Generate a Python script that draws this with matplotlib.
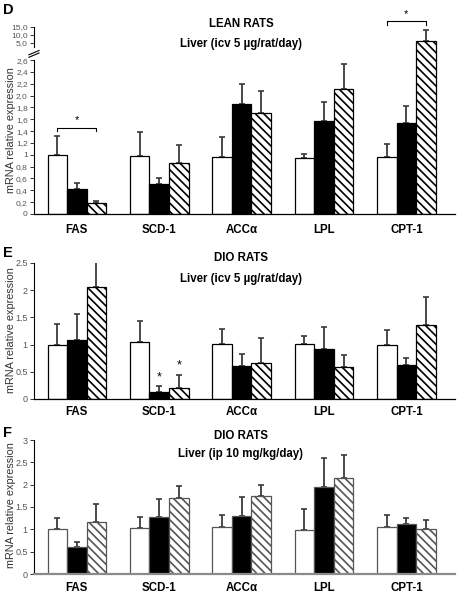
import numpy as np
import matplotlib
matplotlib.use("Agg")
import matplotlib.pyplot as plt

plt.rcParams['font.family'] = ['Liberation Sans', 'DejaVu Sans']
plt.rcParams['hatch.linewidth'] = 1.2

genes = ["FAS", "SCD-1", "ACCα", "LPL", "CPT-1"]

# Panel D: lean rats, icv
d_white = [1.00, 0.98, 0.97, 0.94, 0.97]
d_white_err = [0.32, 0.40, 0.33, 0.08, 0.21]
d_black = [0.43, 0.50, 1.86, 1.57, 1.53]
d_black_err = [0.10, 0.10, 0.33, 0.32, 0.29]
d_hatch = [0.19, 0.87, 1.71, 2.12, 6.0]
d_hatch_err = [0.03, 0.30, 0.37, 0.41, 7.0]

# Panel E: DIO rats, icv
e_white = [1.00, 1.04, 1.02, 1.02, 1.00]
e_white_err = [0.37, 0.40, 0.26, 0.13, 0.26]
e_black = [1.08, 0.13, 0.61, 0.91, 0.63]
e_black_err = [0.49, 0.11, 0.21, 0.41, 0.13]
e_hatch = [2.05, 0.21, 0.67, 0.59, 1.36]
e_hatch_err = [0.46, 0.24, 0.45, 0.21, 0.51]

# Panel F: DIO rats, ip
f_white = [1.01, 1.03, 1.06, 0.99, 1.06]
f_white_err = [0.24, 0.25, 0.25, 0.47, 0.25]
f_black = [0.60, 1.27, 1.29, 1.95, 1.13]
f_black_err = [0.12, 0.42, 0.43, 0.64, 0.13]
f_hatch = [1.16, 1.70, 1.75, 2.16, 1.01]
f_hatch_err = [0.41, 0.26, 0.25, 0.50, 0.21]

d_ticks = [0, 0.2, 0.4, 0.6, 0.8, 1.0, 1.2, 1.4, 1.6, 1.8, 2.0, 2.2, 2.4, 2.6, 5, 10, 15]
d_ticklabels = ["0", "0,2", "0,4", "0,6", "0,8", "1", "1,2", "1,4", "1,6", "1,8", "2,0",
                "2,2", "2,4", "2,6", "5,0", "10,0", "15,0"]
e_ticks = [0, 0.5, 1, 1.5, 2, 2.5]
e_ticklabels = ["0", "0.5", "1", "1.5", "2", "2.5"]
f_ticks = [0, 0.5, 1, 1.5, 2, 2.5, 3]
f_ticklabels = ["0", "0.5", "1", "1.5", "2", "2.5", "3"]

W, H = 457, 594
fig = plt.figure(figsize=(W / 100, H / 100), dpi=100)

A = 0.29 / 2.4
B = 0.027
T5 = 2.6 + 2.4 * A


def fwd(y):
    y = np.asarray(y, dtype=float)
    return np.where(y <= 2.6, y,
                    np.where(y <= 5, 2.6 + (y - 2.6) * A, T5 + (y - 5) * B))


def inv(t):
    t = np.asarray(t, dtype=float)
    return np.where(t <= 2.6, t,
                    np.where(t <= T5, 2.6 + (t - 2.6) / A, 5 + (t - T5) / B))


left_px, right_px = 34, 455
x = np.arange(len(genes))
bw = 0.237
xlim = (-0.52, 4.59)


def make_ax(top_px, bottom_px):
    return fig.add_axes([left_px / W, 1 - bottom_px / H, (right_px - left_px) / W,
                         (bottom_px - top_px) / H])


def draw_bars(ax, wv, we, bv, be, hv, he, edge='black', ecolor='#3a3a3a'):
    ax.bar(x - bw, wv, bw, color='white', edgecolor=edge, linewidth=0.9, zorder=2)
    ax.bar(x, bv, bw, color='black', edgecolor=edge, linewidth=0.9, zorder=2)
    ax.bar(x + bw, hv, bw, color='white', edgecolor=edge, linewidth=0.9,
           hatch='\\\\\\\\', zorder=2)
    for off, v, e in ((-bw, wv, we), (0, bv, be), (bw, hv, he)):
        ax.errorbar(x + off, v, yerr=[np.zeros(len(v)), e], fmt='none', ecolor=ecolor,
                    elinewidth=1.3, capsize=2.2, capthick=1.2, zorder=1)


def style(ax, ticks, labels, bottom_color='black', bottom_lw=0.9, pad=5, tfs=6.5):
    ax.set_xlim(*xlim)
    ax.set_xticks(x)
    ax.set_xticklabels(genes, fontsize=8.3, fontweight='bold')
    ax.tick_params(axis='x', length=0, pad=pad)
    ax.set_yticks(ticks)
    ax.set_yticklabels(labels, fontsize=tfs, color='#555555')
    ax.tick_params(axis='y', length=3, width=0.7, color='#333333', pad=1.5)
    for s in ('top', 'right'):
        ax.spines[s].set_visible(False)
    ax.spines['bottom'].set_color(bottom_color)
    ax.spines['bottom'].set_linewidth(bottom_lw)
    ax.spines['left'].set_linewidth(0.8)
    ax.patch.set_alpha(0)


# ---------- Panel D ----------
axD = make_ax(27, 214)
axD.set_yscale('function', functions=(fwd, inv))
axD.set_ylim(0, 15)
draw_bars(axD, d_white, d_white_err, d_black, d_black_err, d_hatch, d_hatch_err)
style(axD, d_ticks, d_ticklabels, pad=7, tfs=6)
axD.spines['left'].set_visible(False)
yt = axD.get_yaxis_transform()
axD.plot([0, 0], [0, 2.6], color='black', lw=0.8, transform=yt, clip_on=False)
axD.plot([0, 0], [4.4, 15], color='black', lw=0.8, transform=yt, clip_on=False)
for dy in (0.0, 0.35):
    axD.plot([-0.012, 0.012], [3.0 + dy, 3.6 + dy], color='black', lw=0.8,
             transform=yt, clip_on=False)
# significance brackets
axD.plot([0 - bw, 0 - bw, 0 + bw, 0 + bw], [1.40, 1.45, 1.45, 1.40], color='black',
         lw=0.8, clip_on=False)
axD.text(0, 1.50, "*", ha='center', va='bottom', fontsize=8)
axD.plot([4 - bw, 4 - bw, 4 + bw, 4 + bw], [16.1, 18.9, 18.9, 16.1], color='black',
         lw=0.8, clip_on=False)
axD.text(4, 20.0, "*", ha='center', va='bottom', fontsize=8, clip_on=False)

# ---------- Panel E ----------
axE = make_ax(263, 399)
axE.set_ylim(0, 2.5)
draw_bars(axE, e_white, e_white_err, e_black, e_black_err, e_hatch, e_hatch_err)
style(axE, e_ticks, e_ticklabels)
axE.text(1, 0.29, "*", ha='center', va='bottom', fontsize=9)
axE.text(1 + bw, 0.50, "*", ha='center', va='bottom', fontsize=9)

# ---------- Panel F ----------
axF = make_ax(440, 574)
axF.set_ylim(0, 3)
draw_bars(axF, f_white, f_white_err, f_black, f_black_err, f_hatch, f_hatch_err,
          edge='#555555')
style(axF, f_ticks, f_ticklabels, bottom_color='#8a8a8a', bottom_lw=1.6, pad=6)


def ftext(px, py, s, **kw):
    fig.text(px / W, 1 - py / H, s, **kw)


# panel letters
ftext(3, 10, "D", fontsize=10.5, fontweight='bold', va='center')
ftext(3, 253, "E", fontsize=10.5, fontweight='bold', va='center')
ftext(3, 433, "F", fontsize=10.5, fontweight='bold', va='center')

# titles
ftext(241, 24, "LEAN RATS", fontsize=8.3, fontweight='bold', ha='center', va='center')
ftext(241, 44, "Liver (icv 5 µg/rat/day)", fontsize=8.3, fontweight='bold', ha='center', va='center')
ftext(241, 258, "DIO RATS", fontsize=8.3, fontweight='bold', ha='center', va='center')
ftext(241, 279, "Liver (icv 5 µg/rat/day)", fontsize=8.3, fontweight='bold', ha='center', va='center')
ftext(241, 436, "DIO RATS", fontsize=8.3, fontweight='bold', ha='center', va='center')
ftext(241, 454, "Liver (ip 10 mg/kg/day)", fontsize=8.3, fontweight='bold', ha='center', va='center')

# y labels
for cy in (130, 330, 505):
    ftext(11, cy, "mRNA relative expression", fontsize=7.8, color='#333333',
          rotation=90, ha='center', va='center')

fig.savefig("out.png", dpi=100)
